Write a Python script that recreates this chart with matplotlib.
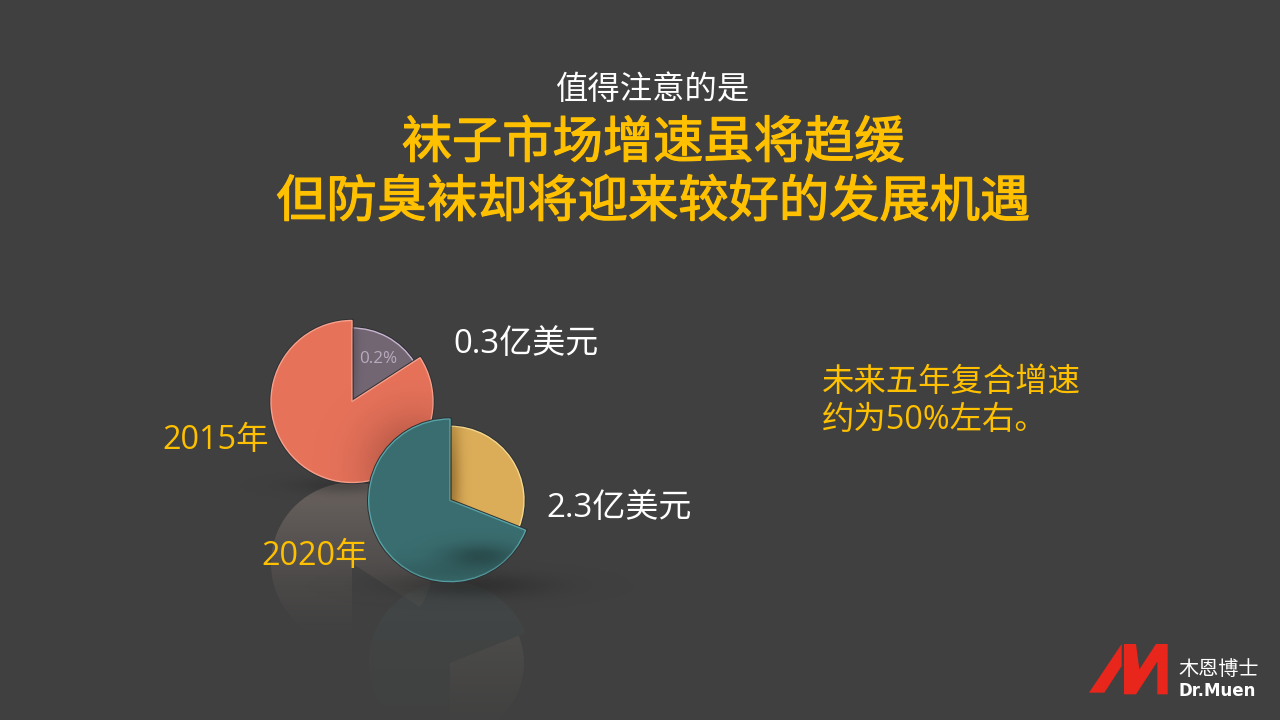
import numpy as np
import matplotlib
matplotlib.use('Agg')
import matplotlib.pyplot as plt
import matplotlib.patheffects as pe
from matplotlib.patches import Polygon, Wedge

plt.rcParams['font.family'] = ['Open Sans', 'Noto Sans CJK SC', 'DejaVu Sans']

W, H = 1280, 720

# data
years = ['2015年', '2020年']
share_2015 = [15.9, 84.1]
share_2020 = [31, 69]
amounts = ['0.3亿美元', '2.3亿美元']
pct_label = '0.2%'
colors_2015 = ['#716672', '#E7725A']
colors_2020 = ['#DBAD59', '#3A6D6F']
edges_2015 = ['#C9B5D0', '#F7A08C']
edges_2020 = ['#F5D78E', '#57A3A6']
mirror_2015 = ['#4A4A4A', '#857873']
mirror_2020 = ['#A09A88', '#4D6161']


def gy(y):
    # picture pixel y -> axis y
    return H - y


def rgba_image(ax, rgba, clip=None, zorder=2):
    im = ax.imshow(rgba, extent=(0, W, 0, H), origin='upper', zorder=zorder,
                   interpolation='bilinear', aspect='auto')
    if clip is not None:
        im.set_clip_path(clip)
    return im


yy, xx = np.mgrid[0:H, 0:W]


def blob(cx, cy, sx, sy, color, strength):
    a = strength * np.exp(-((xx - cx) / sx) ** 2 - ((yy - cy) / sy) ** 2)
    out = np.zeros((H, W, 4))
    out[..., 0], out[..., 1], out[..., 2] = color
    out[..., 3] = a
    return out


def fade(color, y_top, y_bottom, a_top):
    # vertical fade used for the mirror image under a pie
    t = np.clip((yy - y_top) / (y_bottom - y_top), 0, 1)
    out = np.zeros((H, W, 4))
    out[..., 0], out[..., 1], out[..., 2] = matplotlib.colors.to_rgb(color)
    out[..., 3] = a_top * (1 - t) ** 1.3
    return out


def draw_pie(ax, shares, cx, cy, r_big, r_small, fills, edges, z):
    wedges, _ = ax.pie(shares, startangle=90, counterclock=False, colors=fills,
                       center=(cx, gy(cy)), radius=r_big, frame=True,
                       wedgeprops=dict(linewidth=1.0))
    wedges[0].set_radius(r_small)
    for w, e in zip(wedges, edges):
        w.set_edgecolor(e)
        w.set_zorder(z)
        w.set_path_effects([pe.withStroke(linewidth=2.4, foreground='#2E3033')])
    return wedges


def draw_mirror(ax, shares, cx, cy, r_big, r_small, fills, z, a_top):
    # same pie flipped around its lower rim
    my = cy + 2 * r_big
    ang = 360 * shares[0] / 100
    parts = [(90 - ang, 90, r_small, fills[0]), (90, 90 - ang + 360, r_big, fills[1])]
    for t1, t2, r, col in parts:
        w = Wedge((cx, gy(my)), r, -t2, -t1, transform=ax.transData, fc='none', ec='none')
        ax.add_patch(w)
        rgba_image(ax, fade(col, my - r_big, my + r_big * 0.95, a_top), clip=w, zorder=z)


fig = plt.figure(figsize=(12.8, 7.2), dpi=100, facecolor='#404040')
ax = fig.add_axes([0, 0, 1, 1])

# background
ax.set_facecolor('#404040')

# mirror images
draw_mirror(ax, share_2015, 352, 401.5, 81, 73.5, mirror_2015, 1.2, 0.62)
draw_mirror(ax, share_2020, 450, 500.3, 81.3, 74, mirror_2020, 1.4, 0.22)

# soft shadows under the pies
rgba_image(ax, blob(345, 485, 50, 8, (0.12, 0.12, 0.12), 0.35), zorder=1.5)
rgba_image(ax, blob(470, 585, 75, 12, (0.12, 0.12, 0.12), 0.45), zorder=1.6)

w15 = draw_pie(ax, share_2015, 352, 401.5, 81, 73.5, colors_2015, edges_2015, 3)
# shadow of the front pie falling on the back pie
rgba_image(ax, blob(415, 465, 48, 48, (0.3, 0.14, 0.11), 0.4), clip=w15[1], zorder=3.1)
w20 = draw_pie(ax, share_2020, 450, 500.3, 81.3, 74, colors_2020, edges_2020, 4)
# dark spot on the teal slice, inner shadow on the yellow one
rgba_image(ax, blob(480, 556, 38, 13, (0.13, 0.22, 0.22), 0.6), clip=w20[1], zorder=4.1)
rgba_image(ax, blob(440, 572, 70, 12, (0.13, 0.22, 0.22), 0.25), clip=w20[1], zorder=4.1)
rgba_image(ax, blob(450, 480, 10, 70, (0.35, 0.22, 0.05), 0.45), clip=w20[0], zorder=4.1)
rgba_image(ax, blob(352, 350, 6, 60, (0.2, 0.17, 0.2), 0.25), clip=w15[0], zorder=3.1)

ax.set_xlim(0, W)
ax.set_ylim(0, H)
ax.set_aspect('auto')
ax.axis('off')


def txt(x, y, s, size, color, ha='left', z=6, **kw):
    return ax.text(x, gy(y), s, fontsize=size, color=color, ha=ha, va='center', zorder=z, **kw)


YEL = '#FFC000'
heavy = [pe.withStroke(linewidth=0.9, foreground=YEL)]
txt(653, 91, '值得注意的是', 23.3, 'white', ha='center')
txt(653, 145, '袜子市场增速虽将趋缓', 36.2, YEL, ha='center', path_effects=heavy)
txt(653, 204, '但防臭袜却将迎来较好的发展机遇', 36.2, YEL, ha='center', path_effects=heavy)

txt(378, 359, pct_label, 12.3, '#B9A9BD', ha='center')
txt(453, 345, amounts[0], 23.8, 'white')
txt(546, 508, amounts[1], 23.8, 'white')
txt(162, 441, years[0], 23.3, YEL)
txt(261, 557, years[1], 23.3, YEL)
txt(822, 382, '未来五年复合增速', 23.3, YEL)
txt(822, 420, '约为50%左右。', 23.3, YEL)

# logo
red = '#E8261C'
ox, oy = 1070, 630
left = [(57, 188), (103, 188), (155, 108), (155, 42)]
body = [(162, 42), (198, 42), (208, 118), (258, 42), (293, 42), (293, 193),
        (262, 193), (262, 95), (198, 193), (162, 193)]
for pts in (left, body):
    xy = [(ox + a / 3, gy(oy + b / 3)) for a, b in pts]
    ax.add_patch(Polygon(xy, closed=True, fc=red, ec='none', zorder=6))
txt(1219, 670, '木恩博士', 14.5, 'white', ha='center')
txt(1217, 691, 'Dr.Muen', 12, 'white', ha='center', fontweight='bold', family=['DejaVu Sans'])

fig.savefig('out.png', dpi=100, facecolor=fig.get_facecolor())
